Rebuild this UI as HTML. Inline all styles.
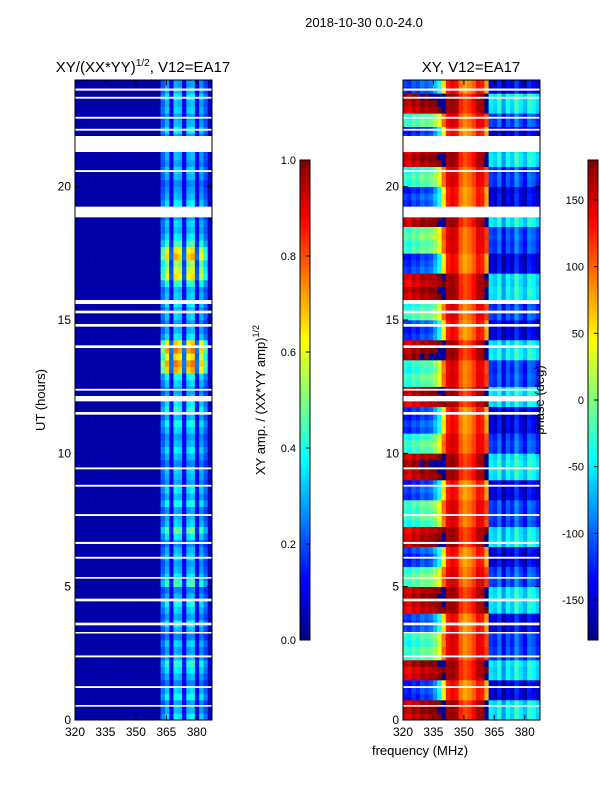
<!DOCTYPE html>
<html><head><meta charset="utf-8"><style>
body{margin:0;background:#fff;font-family:"Liberation Sans",sans-serif}
svg text{font-family:"Liberation Sans",sans-serif}
</style></head><body>
<svg id="fig" width="600" height="800" xmlns="http://www.w3.org/2000/svg">
<rect width="600" height="800" fill="#fff"/>
<text x="364" y="27" font-size="13" text-anchor="middle">2018-10-30 0.0-24.0</text>
<text x="143" y="72" font-size="15" text-anchor="middle">XY/(XX*YY)<tspan font-size="10" dy="-6">1/2</tspan><tspan dy="6">, V12=EA17</tspan></text>
<text x="471" y="72" font-size="15" text-anchor="middle">XY, V12=EA17</text>
<g id="ampPanel"></g>
<g id="phPanel"></g>
<g id="axes"></g>
<text transform="translate(45,400) rotate(-90)" font-size="13" text-anchor="middle">UT (hours)</text>
<text transform="translate(265,400) rotate(-90)" font-size="13" text-anchor="middle">XY amp. / (XX*YY amp)<tspan font-size="9" dy="-6">1/2</tspan></text>
<text transform="translate(544,400) rotate(-90)" font-size="13" text-anchor="middle">phase (deg)</text>
<text x="420" y="755" font-size="13" text-anchor="middle">frequency (MHz)</text>
</svg>
<script>
const ampChan=[0.04,0.04,0.04,0.04,0.04,0.04,0.04,0.04,0.04,0.04,0.04,0.04,0.04,0.04,0.04,0.04,0.04,0.04,0.04,0.04,0.22,0.3,0.12,0.32,0.3,0.12,0.3,0.32,0.12,0.28,0.2,0.06];
const phaseChan=[40,30,50,40,60,50,60,70,90,130,150,160,150,110,95,105,120,150,150,140,-90,-100,-70,-120,-80,-100,-60,-90,-110,-70,-80,-100];
const chanScatter=[1,1,1,1,1,1,1,0.9,0.8,0.5,0.15,0.12,0.12,0.12,0.12,0.12,0.12,0.12,0.15,0.4,0.35,0.35,0.35,0.35,0.35,0.35,0.35,0.35,0.35,0.35,0.35,0.35];
const rowAmp=[1.2,1.0,0.9,1.3,1.1,0.8,1.0,1.2,1.4,1.0,0.9,1.1,0.8,1.0,1.2,0.9,1.1,1.3,1.0,0.8,1.5,1.2,1.0,0.9,1.1,1.0,0.8,1.2,1.6,1.1,1.0,0.9,1.3,1.0,1.2,0.9,1.0,1.1,0.8,1.0,1.2,1.0,0.9,1.1,1.3,1.0,1.4,1.2,1.0,0.9,1.1,1.3,2.4,2.6,2.2,2.6,2.3,1.2,1.0,0.9,1.1,1.0,1.2,1.1,1.0,1.4,2.2,2.0,1.8,2.4,2.2,1.5,1.2,1.0,1.1,0.9,1.0,1.2,1.0,0.9,0.8,1.0,1.1,0.9,1.0,1.0,1.1,0.9,1.2,1.0,0.9,1.1,1.0,1.2,1.0,0.9];
const rowPhase=[110,120,110,-170,-160,-170,110,100,120,-70,-60,-80,-70,-150,-160,-150,100,110,120,110,-60,-50,-70,-160,-170,-150,120,110,100,-80,-60,-70,-60,-160,-150,-170,110,120,130,110,-70,-60,-80,-160,-150,-170,-160,100,110,120,-70,-60,-80,-70,130,120,110,-160,-170,-150,-60,-70,-80,110,120,100,110,-150,-160,-170,-60,-70,-50,-60,120,110,130,-160,-150,-170,-70,-60,-80,110,120,100,-150,-160,-170,-60,-70,110,120,130,-160,-150];
const flagStart=[0.5,1.2,2.35,3.25,3.55,4.45,5.3,6.05,6.6,7.65,8.75,9.4,11.45,11.95,12.35,13.95,14.75,15.25,15.6,18.85,20.55,21.3,22.1,22.55,23.3,23.6];
const flagEnd=[0.56,1.27,2.42,3.3,3.65,4.55,5.36,6.12,6.68,7.72,8.82,9.47,11.55,12.15,12.42,14.05,14.85,15.35,15.75,19.25,20.62,21.9,22.17,22.62,23.37,23.68];
const yTicks=[0,5,10,15,20];
const xTicks=[320,335,350,365,380];
const ampTicks=[0,0.2,0.4,0.6,0.8,1.0];
const phTicks=[-150,-100,-50,0,50,100,150];
const NS="http://www.w3.org/2000/svg";
const T=0,H=24,F0=320,F1=387.5;
const py=h=>720-(h-T)/(H-T)*640;
function mk(tag,attrs,parent){const e=document.createElementNS(NS,tag);for(const k in attrs)e.setAttribute(k,attrs[k]);parent.appendChild(e);return e;}
function jet(v){v=Math.max(0,Math.min(1,v));const r=Math.min(4*v-1.5,-4*v+4.5),g=Math.min(4*v-0.5,-4*v+3.5),b=Math.min(4*v+0.5,-4*v+2.5);const c=x=>Math.round(255*Math.max(0,Math.min(1,x)));return `rgb(${c(r)},${c(g)},${c(b)})`;}
function wrap(p){while(p>180)p-=360;while(p<-180)p+=360;return p;}
function panel(g,x0,valFn){
  const nC=ampChan.length,nR=rowAmp.length,cw=137/nC,rh=640/nR;
  for(let r=0;r<nR;r++)for(let c=0;c<nC;c++){
    const e=mk('rect',{x:x0+c*cw,y:720-(r+1)*rh,width:cw+0.3,height:rh+0.3,fill:jet(valFn(r,c))},g);
    
    
  }
  for(let i=0;i<flagStart.length;i++){
    const e=mk('rect',{x:x0,y:py(flagEnd[i]),width:137,height:Math.max(1.5,py(flagStart[i])-py(flagEnd[i])),fill:'#fff'},g);
    
    
  }
}
panel(document.getElementById('ampPanel'),75,(r,c)=>0.04+(ampChan[c]-0.04)*rowAmp[r]);
panel(document.getElementById('phPanel'),403,(r,c)=>(wrap(phaseChan[c]+rowPhase[r]*chanScatter[c])+180)/360);
const ax=document.getElementById('axes');
[75,403].forEach((x0,pi)=>{
  const f=mk('rect',{x:x0,y:80,width:137,height:640,fill:'none',stroke:'#000','stroke-width':1},ax);
  
  
  yTicks.forEach(t=>{const y=py(t);
    mk('line',{x1:x0,x2:x0+5,y1:y,y2:y,stroke:'#000'},ax);mk('line',{x1:x0+132,x2:x0+137,y1:y,y2:y,stroke:'#000'},ax);
    const l=mk('text',{x:x0-4,y:y+4,'font-size':12,'text-anchor':'end'},ax);l.textContent=t;
    
    });
  xTicks.forEach(t=>{const x=x0+(t-F0)/(F1-F0)*137;
    mk('line',{x1:x,x2:x,y1:720,y2:715,stroke:'#000'},ax);mk('line',{x1:x,x2:x,y1:80,y2:85,stroke:'#000'},ax);
    const l=mk('text',{x:x,y:736,'font-size':12,'text-anchor':'middle'},ax);l.textContent=t;
    
    });
});
function cbar(x0,ticks,vmin,vmax,name){
  for(let i=0;i<120;i++){mk('rect',{x:x0,y:640-(i+1)*4,width:10,height:4.3,fill:jet((i+0.5)/120)},ax);}
  const f=mk('rect',{x:x0,y:160,width:10,height:480,fill:'none',stroke:'#000'},ax);
  
  
  ticks.forEach(t=>{const y=640-(t-vmin)/(vmax-vmin)*480;
    mk('line',{x1:x0+6,x2:x0+10,y1:y,y2:y,stroke:'#000'},ax);
    const l=mk('text',{x:x0-4,y:y+4,'font-size':11,'text-anchor':'end'},ax);l.textContent=(vmax===1?t.toFixed(1):t);
    
    });
}
cbar(300,ampTicks,0,1,'amp-colorbar');
cbar(588,phTicks,-180,180,'phase-colorbar');
</script>
</body></html>
